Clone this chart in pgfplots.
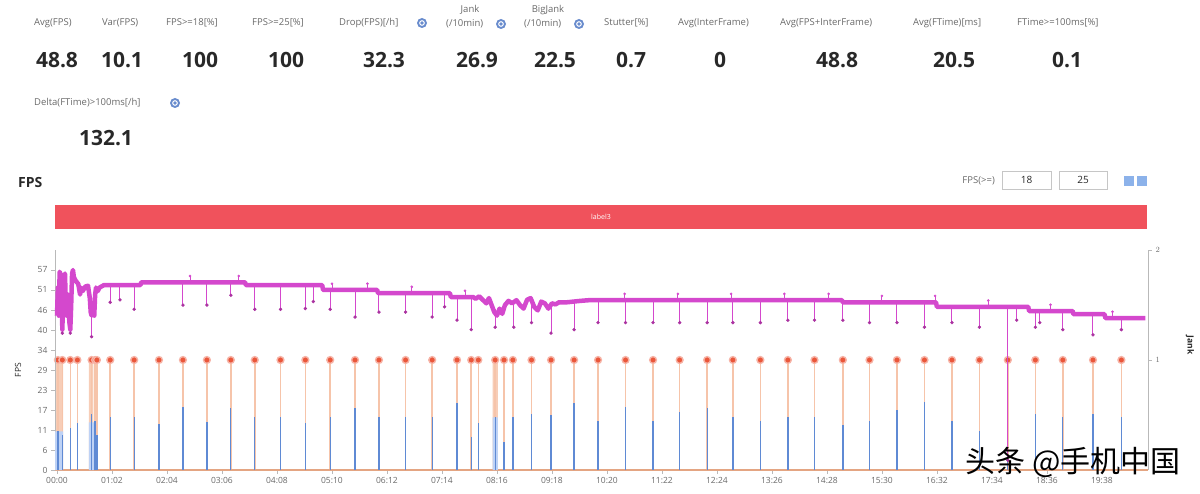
\documentclass[border=0pt]{standalone}
\usepackage{pgfplots}
\pgfplotsset{compat=1.18}
\usepackage{fontspec}
\setmainfont{Open Sans}
\newfontfamily\cjk{Noto Sans CJK SC}
\definecolor{fpsc}{RGB}{212,72,205}
\definecolor{fpsdark}{RGB}{170,50,160}
\definecolor{barred}{RGB}{240,82,92}
\definecolor{jankdot}{RGB}{234,86,58}
\definecolor{stem}{RGB}{246,196,170}
\definecolor{bluestem}{RGB}{95,138,212}
\definecolor{lightblue}{RGB}{190,210,245}
\definecolor{base}{RGB}{228,165,130}
\definecolor{txtgray}{RGB}{105,105,105}
\definecolor{icon}{RGB}{105,140,205}
\definecolor{valc}{RGB}{40,40,40}
\definecolor{boxblue}{RGB}{140,178,234}
\begin{document}
\begin{tikzpicture}
\path[use as bounding box] (0pt,0pt) rectangle (1200pt,-494pt);
\begin{scope}[x=1pt,y=-1pt,
  lab/.style={font=\fontsize{9.5}{11}\selectfont, text=txtgray, inner sep=0pt},
  val/.style={font=\fontsize{21}{24}\selectfont\bfseries, text=valc, inner sep=0pt}]
% header labels
\node[lab, anchor=west] at (34,23) {Avg(FPS)};
\node[lab, anchor=west] at (102,23) {Var(FPS)};
\node[lab, anchor=west] at (166,23) {FPS>=18[\%]};
\node[lab, anchor=west] at (252,23) {FPS>=25[\%]};
\node[lab, anchor=west] at (339,23) {Drop(FPS)[/h]};
\node[lab] at (470,10) {Jank};
\node[lab, anchor=west] at (446,24) {(/10min)};
\node[lab] at (548,10) {BigJank};
\node[lab, anchor=west] at (524,24) {(/10min)};
\node[lab, anchor=west] at (604,23) {Stutter[\%]};
\node[lab, anchor=west] at (678,23) {Avg(InterFrame)};
\node[lab, anchor=west] at (780,23) {Avg(FPS+InterFrame)};
\node[lab, anchor=west] at (913,23) {Avg(FTime)[ms]};
\node[lab, anchor=west] at (1017,23) {FTime>=100ms[\%]};
\node[lab, anchor=west] at (34,103) {Delta(FTime)>100ms[/h]};
\foreach \ix/\iy in {422/23, 501/24, 579/24, 175/103}{
  \fill[icon] (\ix,\iy) circle (5);
  \draw[white, line width=1pt] (\ix,\iy) circle (2.3);
}
% values
\node[val] at (57,60) {48.8};
\node[val] at (122,60) {10.1};
\node[val] at (200,60) {100};
\node[val] at (286,60) {100};
\node[val] at (384,60) {32.3};
\node[val] at (477,60) {26.9};
\node[val] at (555,60) {22.5};
\node[val] at (631,60) {0.7};
\node[val] at (720,60) {0};
\node[val] at (837,60) {48.8};
\node[val] at (954,60) {20.5};
\node[val] at (1067,60) {0.1};
\node[val] at (106,138) {132.1};
% FPS title
\node[anchor=west, inner sep=0pt, font=\fontsize{14}{16}\selectfont\bfseries, text=valc] at (18,183) {FPS};
% threshold boxes
\node[lab, anchor=east] at (995,181) {FPS(>=)};
\draw[gray!45, line width=0.6pt] (1002,171) rectangle (1051,189);
\node[font=\fontsize{10}{12}\selectfont, text=valc] at (1026.5,180) {18};
\draw[gray!45, line width=0.6pt] (1059,171) rectangle (1107,189);
\node[font=\fontsize{10}{12}\selectfont, text=valc] at (1083,180) {25};
\fill[boxblue] (1124,176) rectangle (1134,186);
\fill[boxblue] (1137,176) rectangle (1147,186);
% red label bar
\fill[barred] (55,205) rectangle (1147,229);
\node[font=\fontsize{7}{8}\selectfont, text=white] at (601,217) {label3};
% axis titles
\node[rotate=90, font=\fontsize{8.5}{10}\selectfont, text=valc] at (18,370) {FPS};
\node[rotate=-90, font=\fontsize{8.5}{10}\selectfont\bfseries, text=valc] at (1190,345) {Jank};
\end{scope}

% ---------- Jank axis (right) ----------
\begin{axis}[
  at={(55pt,-470pt)}, anchor=south west, scale only axis,
  width=1093pt, height=220pt,
  xmin=-2.25, xmax=1230, ymin=0, ymax=2,
  axis x line=none, axis y line*=right,
  ytick={1,2},
  tick align=outside, major tick length=4pt,
  y axis line style={draw=gray!55, line width=0.6pt},
  tick style={draw=gray!55, line width=0.6pt},
  tick label style={font=\fontsize{8.5}{10}\selectfont, text=txtgray},
  clip=false,
]
% peach area at start
\addplot[fill=stem, draw=none, fill opacity=0.85] coordinates {(-2,0) (-2,1) (7,1) (7,0)} \closedcycle;
\addplot[fill=stem, draw=none, fill opacity=0.85] coordinates {(36,0) (36,1) (41,1) (41,0)} \closedcycle;
\addplot[fill=stem, draw=none, fill opacity=0.85] coordinates {(491,0) (491,1) (497,1) (497,0)} \closedcycle;
% baseline
\addplot[base, line width=1.6pt] coordinates {(-2,0) (1228,0)};
% jank stems with dots
\addplot[ycomb, stem, line width=1.6pt, mark=*, mark size=3.4pt,
  mark options={fill=jankdot, draw=jankdot!45, line width=1.4pt}]
coordinates {
(1,1) (6,1) (15,1) (23,1) (39,1) (43,1) (45,1) (60,1) (87,1) (115,1)
(142,1) (169,1) (196,1) (223,1) (252,1) (280,1) (308,1) (336,1) (363,1) (393,1)
(423,1) (451,1) (467,1) (475,1) (494,1) (504,1) (514,1) (535,1) (557,1) (583,1)
(610,1) (641,1) (672,1) (702,1) (733,1) (762,1) (793,1) (824,1) (854,1) (886,1)
(916,1) (947,1) (978,1) (1009,1) (1040,1) (1072,1) (1103,1) (1134,1) (1168,1) (1200,1)
};
\end{axis}

% ---------- FPS axis (left) ----------
\begin{axis}[
  at={(55pt,-470pt)}, anchor=south west, scale only axis,
  width=1093pt, height=220pt,
  xmin=-2.25, xmax=1230, ymin=0, ymax=62.7,
  axis x line*=bottom, axis y line*=left,
  ytick={0,5.7,11.4,17.1,22.8,28.5,34.2,39.9,45.6,51.3,57},
  yticklabels={0,6,11,17,23,29,34,40,46,51,57},
  xtick={0,62,124,186,248,310,372,434,496,558,620,682,744,806,868,930,992,1054,1116,1178},
  xticklabels={00:00,01:02,02:04,03:06,04:08,05:10,06:12,07:14,08:16,09:18,10:20,11:22,12:24,13:26,14:28,15:30,16:32,17:34,18:36,19:38},
  tick align=outside, major tick length=4pt,
  x axis line style={draw=base, line width=1.6pt},
  y axis line style={draw=gray!55, line width=0.6pt},
  tick style={draw=gray!55, line width=0.6pt},
  tick label style={font=\fontsize{8.5}{10}\selectfont, text=txtgray},
  clip=false,
]
% light blue areas
\addplot[fill=lightblue, draw=none] coordinates {(-2,0) (-2,11) (7,11) (7,0)} \closedcycle;
\addplot[fill=lightblue, draw=none] coordinates {(36,0) (36,13.6) (42,13.6) (42,0)} \closedcycle;
\addplot[fill=lightblue, draw=none] coordinates {(491,0) (491,15) (497,15) (497,0)} \closedcycle;
% blue stems
\addplot[ycomb, bluestem, line width=1.3pt] coordinates {
(1,11) (6,10) (15,12) (23,13.4) (39,16) (43,14) (45,10) (60,15) (87,15) (115,13)
(142,18) (169,13.7) (196,17.6) (223,15) (252,15) (280,13.4) (308,15) (336,17.6) (363,15) (393,15)
(423,15) (451,19) (467,9.4) (475,13.4) (494,15) (504,8) (514,15) (535,16) (557,15.7) (583,19)
(610,14) (641,18) (672,14) (702,16.5) (733,17.6) (762,15) (793,14) (824,15) (854,15) (886,12.8)
(916,14) (947,17) (978,19.3) (1009,14) (1040,11) (1072,12) (1103,16) (1134,15) (1168,16) (1200,15)
};
% small upward ticks on the FPS band
\addplot[only marks, mark=*, mark size=1.1pt, color=fpsc,
  error bars/.cd, y dir=minus, y explicit, error mark=none,
  error bar style={line width=0.9pt, color=fpsc}]
table[x=t, y=u, y error=e] {
t u e
150 55.3 1.8
205 55.3 1.8
310 53.1 1.8
350 53.1 1.8
400 52.2 1.8
460 51.1 1.8
640 50.2 1.8
700 50.2 1.8
760 50.2 1.8
820 50.2 1.8
870 50.2 1.8
930 49.6 1.8
990 49.6 1.8
1050 48.3 1.8
1120 47.1 1.8
1190 45.1 1.8
};
% spikes (dips) of the FPS line
\addplot[only marks, mark=*, mark size=1.5pt, color=fpsdark,
  error bars/.cd, y dir=plus, y explicit, error mark=none,
  error bar style={line width=1pt, color=fpsc}]
table[x=t, y=d, y error=e] {
t d e
6 39 8
15 39 8
39 38 8
60 47.8 4.9
71 48.5 4.2
87 45.8 6.9
142 47 6.5
169 47 6.5
196 49.8 3.7
223 45.8 6.9
252 45.8 6.9
280 46 6.7
289 48 4.7
308 45.8 5.5
336 43.6 7.7
363 45 5.4
393 45 5.4
423 43.6 6.8
437 46.5 3.9
451 42.7 6.6
467 40 9.3
494 40.7 5.3
515 40.7 6.8
535 42 5
557 39 8.5
583 40 8
610 42 6.4
641 42 6.4
672 42 6.4
702 42 6.4
733 42 6.4
762 42 6.4
793 42 6.4
824 42.7 5.7
854 42.7 5.7
886 42.7 5.1
916 42 5.8
947 42 5.8
978 40.7 7.1
1009 42 4.5
1040 40.7 5.8
1072 2.8 43.7
1082 42.7 3.8
1103 40.7 4.6
1108 42 3.3
1134 40 5.3
1168 38.5 5.9
1200 40 3.3
};
% FPS line
\addplot[fpsc, line width=4.5pt, line join=round] table {
x y
0 44
1 52
2 44
3 56.5
5 55
6 40
7 49
8 55
9 56
10 47
11 44
12 50
14 42
15 40
16 47
17 56
18 57
19 55
21 54
24 53
26 50
27 52
29 51
32 52.3
35 52.5
37 49
38 45
39 44
41 47
42 44
43 50
44 52
46 51
48 52
53 52.7
94 52.7
95 53.5
212 53.5
213 52.7
299 52.7
300 51.3
361 51.3
362 50.4
443 50.4
444 49.3
469 49.3
472 48.8
476 49.5
480 48.5
484 47.5
487 49
490 47
493 45
496 44
499 46
502 44.5
505 47
509 48.2
513 47.5
518 48.4
522 47
526 46
530 48.5
534 49
538 46.5
542 45.5
546 48
550 47.5
554 46
558 47.5
562 47.2
566 47.8
575 47.8
590 48.2
600 48.4
885 48.4
886 47.8
991 47.8
992 46.5
1095 46.5
1096 45.3
1145 45.3
1146 44.4
1181 44.4
1182 43.3
1227 43.3
};
\end{axis}
% watermark
\node[font=\cjk\fontsize{30}{33}\selectfont, text=black, inner sep=0pt] at (1073pt,-462pt) {头条 @手机中国};
\end{tikzpicture}
\end{document}
